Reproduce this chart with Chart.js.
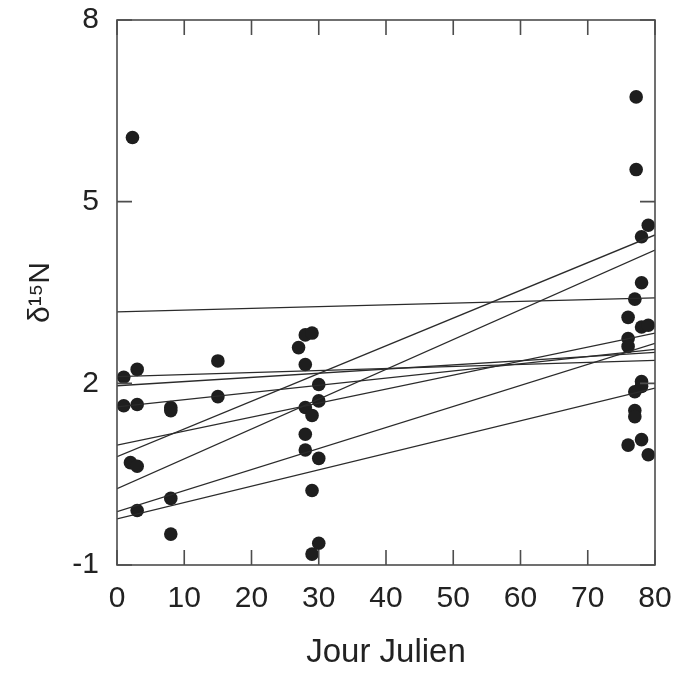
<!DOCTYPE html>
<html>
<head>
<meta charset="utf-8">
<script src="https://cdn.jsdelivr.net/npm/chart.js@4.4.1/dist/chart.umd.min.js"></script>
<style>
  html, body { margin: 0; padding: 0; background: #fff; }
  #wrap { width: 681px; height: 674px; }
</style>
</head>
<body>
<div id="wrap"><canvas id="myChart" width="681" height="674"></canvas></div>
<script>
// julian day / delta15N of each sample
const days = [2.3, 1, 3, 1, 3, 8, 8, 2, 3, 3, 8, 8, 15, 15,
  27, 28, 29, 28, 30, 28, 29, 30, 28, 28, 30, 29, 30, 29,
  77.2, 77.2, 79, 78, 78, 77, 76, 78, 79, 76, 76, 78, 78, 77, 77, 77, 78, 76, 79];
const d15n = [6.06, 2.1, 2.23, 1.63, 1.65, 1.6, 1.55, 0.69, 0.63, -0.1, 0.1, -0.49, 2.37, 1.78,
  2.59, 2.8, 2.83, 2.31, 1.98, 1.6, 1.47, 1.71, 1.16, 0.9, 0.76, 0.23, -0.64, -0.82,
  6.73, 5.53, 4.61, 4.42, 3.66, 3.39, 3.09, 2.93, 2.96, 2.74, 2.61, 2.03, 1.95, 1.86, 1.55, 1.45, 1.07, 0.98, 0.82];

// regression lines, value at day 0 and day 80
const lineStart = [3.18, 0.79, 0.26, 0.98, 1.61, 2.11, 1.96, -0.12, -0.24];
const lineEnd   = [3.41, 4.45, 4.20, 2.83, 2.56, 2.38, 2.51, 2.66, 1.92];

const xTicks = [0, 10, 20, 30, 40, 50, 60, 70, 80];
const yTicks = [-1, 2, 5, 8];

const FONT = "'Liberation Sans', Arial, 'DejaVu Sans', sans-serif";

const frameTicks = {
  id: 'frameTicks',
  afterDraw(chart) {
    const {ctx, chartArea: a, scales: {x, y}} = chart;
    const tl = 15;
    ctx.save();
    ctx.strokeStyle = '#4d4d4d';
    ctx.lineWidth = 1.6;
    ctx.strokeRect(a.left, a.top, a.right - a.left, a.bottom - a.top);
    ctx.beginPath();
    xTicks.forEach(v => {
      const px = x.getPixelForValue(v);
      ctx.moveTo(px, a.bottom); ctx.lineTo(px, a.bottom - tl);
      ctx.moveTo(px, a.top); ctx.lineTo(px, a.top + tl);
    });
    yTicks.forEach(v => {
      const py = y.getPixelForValue(v);
      ctx.moveTo(a.left, py); ctx.lineTo(a.left + tl, py);
      ctx.moveTo(a.right, py); ctx.lineTo(a.right - tl, py);
    });
    ctx.stroke();
    ctx.restore();
  }
};

const datasets = [];
lineStart.forEach((v, i) => {
  datasets.push({
    type: 'line',
    data: [{x: 0, y: v}, {x: 80, y: lineEnd[i]}],
    borderColor: '#2b2b2b',
    borderWidth: 1.3,
    pointRadius: 0,
    fill: false
  });
});
datasets.push({
  type: 'scatter',
  data: days.map((d, i) => ({x: d, y: d15n[i]})),
  backgroundColor: '#1e1e1e',
  borderColor: '#1e1e1e',
  pointRadius: 6.8,
  pointBorderWidth: 0
});

new Chart(document.getElementById('myChart'), {
  data: { datasets: datasets },
  options: {
    responsive: false,
    animation: false,
    layout: { padding: { left: 0, right: 26, top: 20, bottom: 0 } },
    plugins: { legend: { display: false }, tooltip: { enabled: false } },
    scales: {
      x: {
        type: 'linear',
        min: 0, max: 80,
        afterFit: s => { s.height = 109; s.paddingLeft = 0; s.paddingRight = 0; },
        afterBuildTicks: s => { s.ticks = xTicks.map(v => ({value: v})); },
        grid: { display: false },
        border: { display: false },
        ticks: { color: '#222', font: { family: FONT, size: 30 }, padding: 8, maxRotation: 0 },
        title: { display: true, text: 'Jour Julien', color: '#222',
          font: { family: FONT, size: 33 }, padding: { top: 0, bottom: 1 } }
      },
      y: {
        type: 'linear',
        min: -1, max: 8,
        afterFit: s => { s.width = 117; s.paddingTop = 0; s.paddingBottom = 0; },
        afterBuildTicks: s => { s.ticks = yTicks.map(v => ({value: v})); },
        grid: { display: false },
        border: { display: false },
        ticks: { color: '#222', font: { family: FONT, size: 30 }, padding: 10 },
        title: { display: true, text: 'δ¹⁵N', color: '#222',
          font: { family: FONT, size: 30 }, padding: { top: 23, bottom: 0 } }
      }
    }
  },
  plugins: [frameTicks]
});
</script>
</body>
</html>
